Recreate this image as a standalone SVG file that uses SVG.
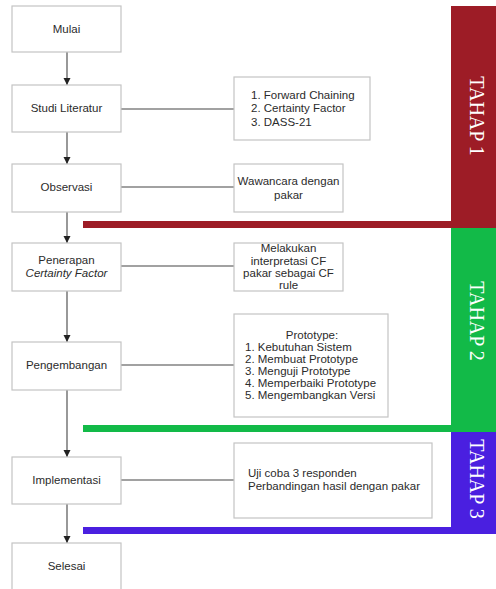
<svg xmlns="http://www.w3.org/2000/svg" width="496" height="589" viewBox="0 0 496 589">
<style>
.box{fill:#fff;stroke:#c4c4c4;stroke-width:1.2}
.t{font-family:"Liberation Sans",Arial,sans-serif;font-size:11.5px;fill:#2b2b2b}
.c{text-anchor:middle}
.tahap{font-family:"Liberation Serif","Times New Roman",serif;font-size:20px;fill:#fff;text-anchor:middle}
.ln{stroke:#444;stroke-width:1.1;fill:none}
</style>
<defs>
<marker id="ah" markerWidth="8" markerHeight="8" refX="7" refY="4" orient="auto" markerUnits="userSpaceOnUse">
<path d="M0,0.5 L7,4 L0,7.5 z" fill="#222"/>
</marker>
</defs>
<rect width="496" height="589" fill="#fff"/>
<g id="bands">
<rect x="451" y="6" width="45" height="222" fill="#9d1c26"/>
<rect x="83" y="221" width="368" height="7" fill="#9d1c26"/>
<rect x="451" y="228" width="45" height="204" fill="#12ba48"/>
<rect x="83" y="425" width="368" height="7" fill="#12ba48"/>
<rect x="451" y="432" width="45" height="102" fill="#4a1fe0"/>
<rect x="83" y="527" width="413" height="7" fill="#4a1fe0"/>
<text class="tahap" transform="translate(470,116) rotate(90)">TAHAP 1</text>
<text class="tahap" transform="translate(470,321) rotate(90)">TAHAP 2</text>
<text class="tahap" transform="translate(470,479) rotate(90)">TAHAP 3</text>
</g>
<g id="connectors">
<line class="ln" x1="67" y1="52" x2="67" y2="85" marker-end="url(#ah)"/>
<line class="ln" x1="67" y1="132" x2="67" y2="164" marker-end="url(#ah)"/>
<line class="ln" x1="67" y1="212" x2="67" y2="243" marker-end="url(#ah)"/>
<line class="ln" x1="67" y1="291" x2="67" y2="342" marker-end="url(#ah)"/>
<line class="ln" x1="67" y1="390" x2="67" y2="457" marker-end="url(#ah)"/>
<line class="ln" x1="67" y1="504" x2="67" y2="543" marker-end="url(#ah)"/>
<line class="ln" x1="121" y1="109" x2="234" y2="109"/>
<line class="ln" x1="121" y1="187" x2="234" y2="187"/>
<line class="ln" x1="121" y1="266" x2="234" y2="266"/>
<line class="ln" x1="121" y1="365" x2="234" y2="365"/>
<line class="ln" x1="121" y1="480" x2="234" y2="480"/>
</g>
<g id="mulai"><rect class="box" x="12" y="6" width="109" height="46"/><text class="t c" x="66.5" y="33">Mulai</text></g>
<g id="studi"><rect class="box" x="12" y="85" width="109" height="47"/><text class="t c" x="66.5" y="112">Studi Literatur</text></g>
<g id="observasi"><rect class="box" x="12" y="164" width="109" height="48"/><text class="t c" x="66.5" y="191">Observasi</text></g>
<g id="penerapan"><rect class="box" x="12" y="243" width="109" height="48"/><text class="t c" x="66.5" y="264">Penerapan</text><text class="t c" x="66.5" y="277" font-style="italic">Certainty Factor</text></g>
<g id="pengembangan"><rect class="box" x="12" y="342" width="109" height="48"/><text class="t c" x="66.5" y="369">Pengembangan</text></g>
<g id="implementasi"><rect class="box" x="12" y="457" width="109" height="47"/><text class="t c" x="66.5" y="484">Implementasi</text></g>
<g id="selesai"><rect class="box" x="12" y="543" width="109" height="48"/><text class="t c" x="66.5" y="570">Selesai</text></g>
<g id="literatur-list"><rect class="box" x="234" y="77" width="136" height="63"/>
<text class="t" x="251" y="99">1. Forward Chaining</text>
<text class="t" x="251" y="112">2. Certainty Factor</text>
<text class="t" x="251" y="126">3. DASS-21</text></g>
<g id="wawancara"><rect class="box" x="234" y="164" width="109" height="48"/>
<text class="t c" x="288.5" y="185">Wawancara dengan</text>
<text class="t c" x="288.5" y="199">pakar</text></g>
<g id="melakukan"><rect class="box" x="234" y="243" width="109" height="48"/>
<text class="t c" x="288.5" y="252">Melakukan</text>
<text class="t c" x="288.5" y="265">interpretasi CF</text>
<text class="t c" x="288.5" y="277">pakar sebagai CF</text>
<text class="t c" x="288.5" y="289">rule</text></g>
<g id="prototype"><rect class="box" x="234" y="314" width="154" height="103"/>
<text class="t c" x="312" y="339">Prototype:</text>
<text class="t" x="245" y="351">1. Kebutuhan Sistem</text>
<text class="t" x="245" y="363">2. Membuat Prototype</text>
<text class="t" x="245" y="375">3. Menguji Prototype</text>
<text class="t" x="245" y="387">4. Memperbaiki Prototype</text>
<text class="t" x="245" y="399">5. Mengembangkan Versi</text></g>
<g id="uji"><rect class="box" x="234" y="443" width="198" height="75"/>
<text class="t" x="248" y="477">Uji coba 3 responden</text>
<text class="t" x="248" y="490">Perbandingan hasil dengan pakar</text></g>
</svg>
